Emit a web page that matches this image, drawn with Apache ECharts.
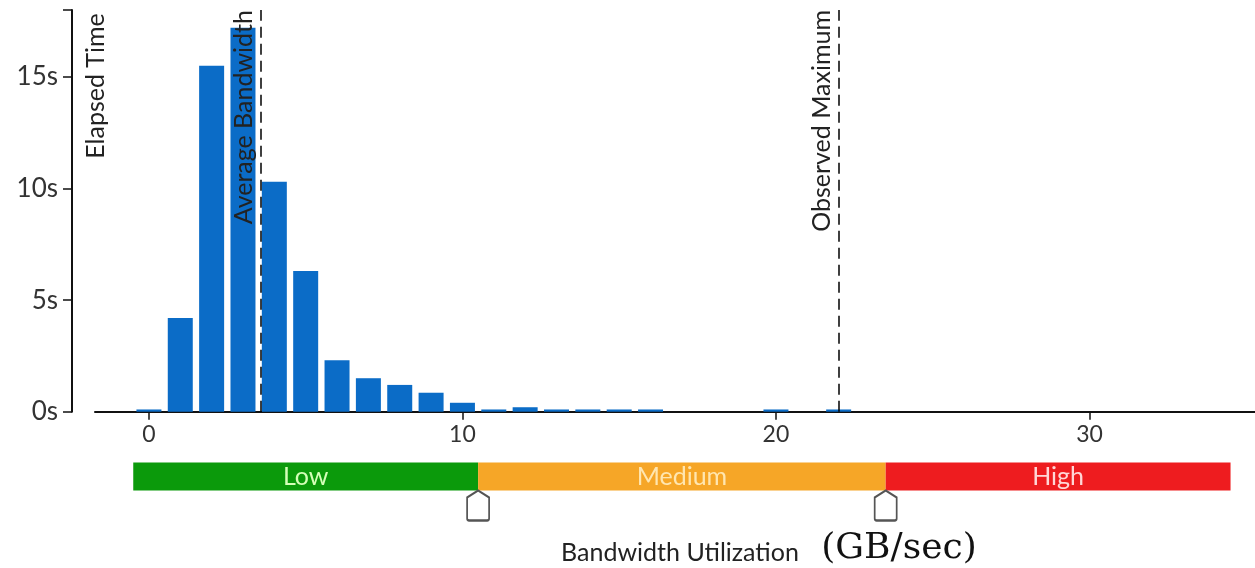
<!DOCTYPE html>
<html>
<head>
<meta charset="utf-8">
<script src="https://cdn.jsdelivr.net/npm/echarts@6/dist/echarts.min.js"></script>
<style>
html,body{margin:0;padding:0;background:#fff;}
#chart{width:1255px;height:568px;}
</style>
</head>
<body>
<div id="chart"></div>
<script>
// ---- data ----
var bandwidthBins = [0,1,2,3,4,5,6,7,8,9,10,11,12,13,14,15,16,20,22];
var elapsedSeconds = [0.1,4.2,15.5,17.2,10.3,6.3,2.3,1.5,1.2,0.85,0.4,0.1,0.2,0.1,0.1,0.1,0.1,0.1,0.1];
var xTickValues = [0,10,20,30];
var yTickValues = [0,5,10,15];
var averageBandwidth = 3.57;
var observedMaximum = 22.0;
var bandNames = ['Low','Medium','High'];
var bandEdges = [-0.5,10.5,23.5,34.5];
var thresholds = [10.5,23.5];

var X_MIN = -1.72, X_MAX = 35.28, Y_MAX = 18;
var FONT = 'Lato, "Open Sans", sans-serif';
var bandColors = ['#0b9a0b','#f6a627','#ee1c1f'];
var bandTextColors = ['#d4ffb8','#ffe6b0','#ffd6d6'];

var barData = bandwidthBins.map(function(b,i){return [b, elapsedSeconds[i]];});

var markAreaData = bandNames.map(function(n,i){
  return [
    {xAxis: bandEdges[i], yAxis: 0, name: n,
     itemStyle:{color: bandColors[i], opacity:1},
     label:{color: bandTextColors[i]}},
    {xAxis: bandEdges[i+1], yAxis: 1}
  ];
});

var chart = echarts.init(document.getElementById('chart'), null, {renderer:'canvas'});
chart.setOption({
  animation:false,
  grid:[
    {left:95, right:0, top:10, bottom:156.3},
    {left:95, right:0, top:462.5, height:28}
  ],
  xAxis:[
    {type:'value', gridIndex:0, min:X_MIN, max:X_MAX,
     axisLine:{show:true, onZero:false, lineStyle:{color:'#111', width:2}},
     axisTick:{show:true, customValues:xTickValues, length:8, lineStyle:{color:'#111', width:1.5}},
     axisLabel:{customValues:xTickValues, fontSize:23, color:'#333', fontFamily:FONT, margin:11},
     splitLine:{show:false}},
    {type:'value', gridIndex:1, min:X_MIN, max:X_MAX, show:false}
  ],
  yAxis:[
    {type:'value', gridIndex:0, min:0, max:Y_MAX, offset:23, position:'left',
     axisLine:{show:true, onZero:false, lineStyle:{color:'#111', width:2}},
     axisTick:{show:true, customValues:yTickValues.concat([Y_MAX]), length:9, lineStyle:{color:'#111', width:1.5}},
     axisLabel:{customValues:yTickValues, formatter:'{value}s', fontSize:26, color:'#333', fontFamily:FONT, margin:14},
     splitLine:{show:false}},
    {type:'value', gridIndex:1, min:0, max:1, show:false}
  ],
  series:[
    {type:'bar', xAxisIndex:0, yAxisIndex:0, data:barData, barWidth:25,
     itemStyle:{color:'#0b6cc7'},
     markLine:{
       silent:true, symbol:['none','none'],
       lineStyle:{color:'#000', type:[11,6], width:1.5},
       label:{position:'insideEndTop', fontSize:25, color:'#222', fontFamily:FONT, distance:[0,4]},
       data:[
         {xAxis:averageBandwidth, label:{formatter:'Average Bandwidth'}},
         {xAxis:observedMaximum, label:{formatter:'Observed Maximum'}}
       ]
     }},
    {type:'scatter', xAxisIndex:1, yAxisIndex:1,
     data:thresholds.map(function(t){return [t,0];}),
     symbol:'path://M11,0 L22,7 L22,28 Q22,30 20,30 L2,30 Q0,30 0,28 L0,7 Z',
     symbolSize:[22,30], symbolOffset:[0,15],
     itemStyle:{color:'#fff', borderColor:'#555', borderWidth:2, opacity:1},
     z:5,
     markArea:{
       silent:true,
       label:{show:true, position:'inside', fontSize:25, fontFamily:FONT},
       data:markAreaData
     }}
  ],
  graphic:[
    {type:'text', x:96, y:86, rotation:Math.PI/2,
     style:{text:'Elapsed Time', fontSize:25, fontFamily:FONT, fill:'#222', align:'center', verticalAlign:'middle'}},
    {type:'text', x:680, y:553,
     style:{text:'Bandwidth Utilization', fontSize:25, fontFamily:FONT, fill:'#222', align:'center', verticalAlign:'middle'}},
    {type:'text', x:899, y:549,
     style:{text:'(GB/sec)', fontSize:36, fontFamily:'"DejaVu Serif", serif', fill:'#111', align:'center', verticalAlign:'middle'}}
  ]
});
</script>
</body>
</html>
